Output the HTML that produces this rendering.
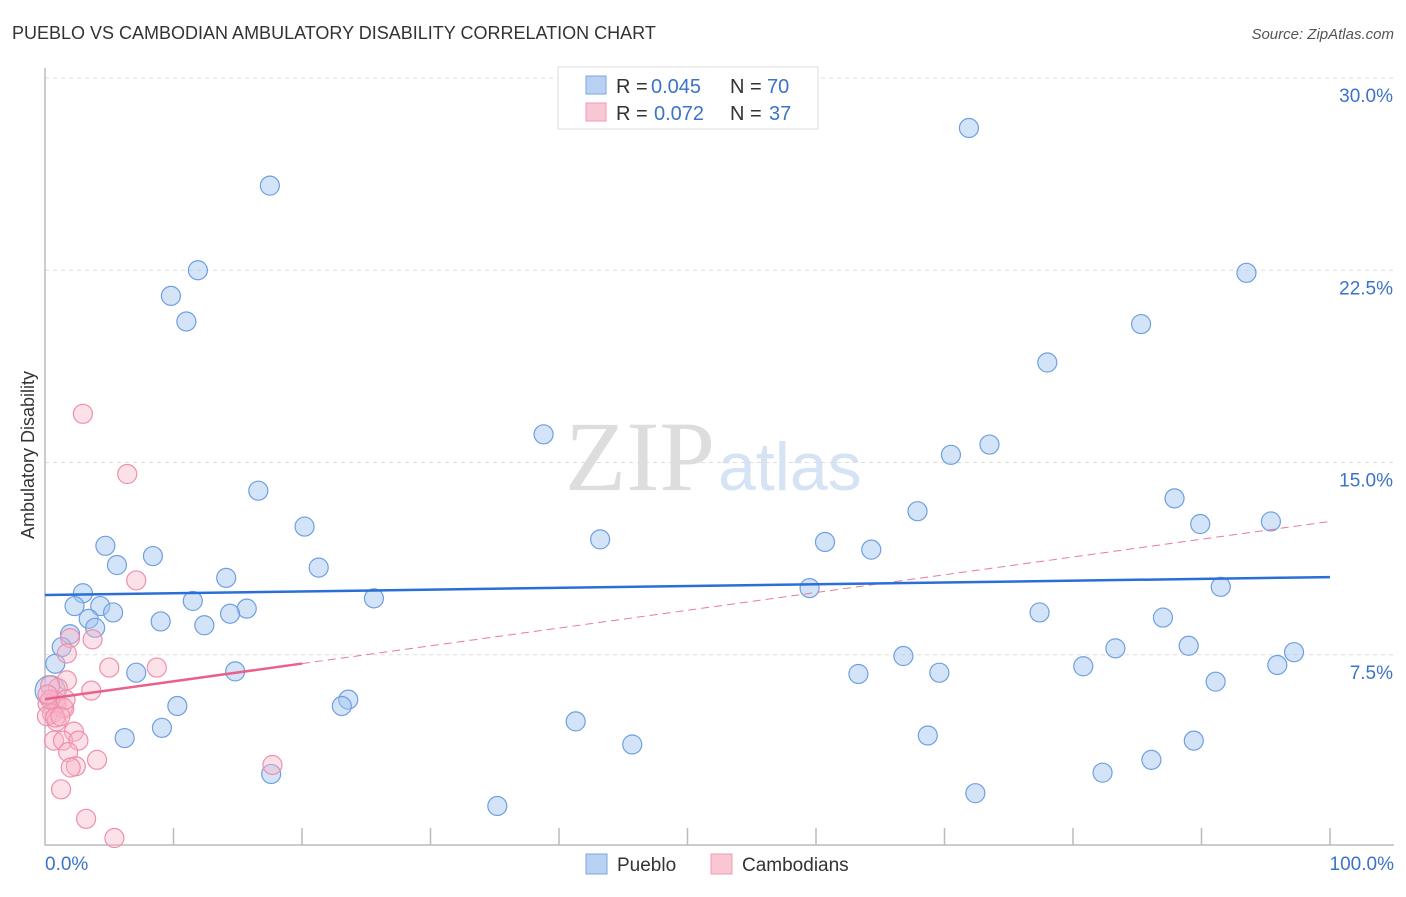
<!DOCTYPE html>
<html><head><meta charset="utf-8"><style>
body{margin:0;background:#fff;font-family:"Liberation Sans",sans-serif;}
svg text{font-family:"Liberation Sans",sans-serif;}
</style></head><body>
<svg width="1406" height="892" viewBox="0 0 1406 892">
<text x="12" y="39" font-size="18" fill="#333">PUEBLO VS CAMBODIAN AMBULATORY DISABILITY CORRELATION CHART</text>
<text x="1394" y="39" font-size="15" fill="#555" font-style="italic" text-anchor="end">Source: ZipAtlas.com</text>
<text x="715" y="490" font-size="100" fill="#ddd" text-anchor="end" style="font-family:'Liberation Serif',serif">ZIP</text>
<text x="718" y="490" font-size="68" fill="#d6e3f5">atlas</text>
<g id="grid"></g>
<g id="axes"></g>
<g id="marks"></g>
<text transform="translate(34,455) rotate(-90)" font-size="18" fill="#333" text-anchor="middle">Ambulatory Disability</text>
<text x="45" y="870" font-size="19" fill="#3b73c9">0.0%</text>
<text x="1394" y="870" font-size="19" fill="#3b73c9" text-anchor="end">100.0%</text>
<g>
<rect x="558" y="67" width="260" height="62" fill="#fff" stroke="#ddd"/>
<rect x="586" y="76" width="20" height="18" fill="#b9d1f3" stroke="#7aa6e3"/>
<rect x="586" y="103" width="20" height="18" fill="#f9c6d4" stroke="#f19ab3"/>
<text x="616" y="93" font-size="20" fill="#333">R =</text>
<text x="651" y="93" font-size="20" fill="#3b73c9">0.045</text>
<text x="730" y="93" font-size="20" fill="#333">N =</text>
<text x="767" y="93" font-size="20" fill="#3b73c9">70</text>
<text x="616" y="120" font-size="20" fill="#333">R =</text>
<text x="654" y="120" font-size="20" fill="#3b73c9">0.072</text>
<text x="730" y="120" font-size="20" fill="#333">N =</text>
<text x="769" y="120" font-size="20" fill="#3b73c9">37</text>
</g>
<g>
<rect x="586" y="854" width="21" height="20" fill="#b9d1f3" stroke="#7aa6e3"/>
<text x="617" y="871" font-size="19" fill="#333">Pueblo</text>
<rect x="711" y="854" width="21" height="20" fill="#f9c6d4" stroke="#f19ab3"/>
<text x="742" y="871" font-size="19" fill="#333">Cambodians</text>
</g>
</svg>
<script>
const yTicks=[7.5,15,22.5,30];
const yTickLabels=["7.5%","15.0%","22.5%","30.0%"];
const blueX=[17.5,71.9,11.9,9.8,11.0,93.5,85.3,78.0,38.8,70.5,73.5,16.6,87.9,67.9,20.2,89.9,95.4,43.2,60.7,4.7,8.4,64.3,5.6,21.3,14.1,2.95,59.5,91.5,25.6,2.3,4.3,11.5,5.3,15.7,14.4,3.4,9.0,12.4,77.4,87.0,3.9,1.95,1.3,83.3,89.0,66.8,97.2,0.8,80.8,95.9,7.1,14.8,63.3,69.6,91.1,0.4,23.6,23.1,10.3,41.3,9.1,6.2,45.7,68.7,89.4,86.1,82.3,17.6,72.4,35.2];
const blueY=[25.8,28.05,22.5,21.5,20.5,22.4,20.4,18.9,16.1,15.3,15.7,13.9,13.6,13.1,12.5,12.6,12.7,12.0,11.9,11.75,11.35,11.6,11.0,10.9,10.5,9.9,10.1,10.15,9.7,9.4,9.4,9.6,9.15,9.3,9.1,8.9,8.8,8.65,9.15,8.95,8.55,8.3,7.8,7.75,7.85,7.45,7.6,7.15,7.05,7.1,6.8,6.85,6.75,6.8,6.45,6.1,5.75,5.5,5.5,4.9,4.65,4.25,4.0,4.35,4.15,3.4,2.9,2.85,2.1,1.6];
const pinkX=[2.95,6.4,7.1,1.95,3.7,1.7,5.0,8.7,1.7,1.0,3.6,0.4,0.8,0.2,0.9,1.4,0.55,0.15,1.5,0.9,2.25,0.7,1.4,2.6,1.8,4.05,2.4,2.0,17.7,1.25,3.2,5.4,0.8,1.2,0.4,1.6,0.2];
const pinkY=[16.9,14.55,10.4,8.15,8.1,7.55,7.0,7.0,6.5,6.2,6.1,6.3,5.7,5.6,5.55,5.45,5.2,5.1,5.4,4.9,4.5,4.15,4.15,4.15,3.7,3.4,3.15,3.1,3.2,2.25,1.1,0.35,5.05,5.1,5.75,5.75,5.95];
const blueTrend=[9.83,10.53];
const pinkTrend=[5.77,12.7];
const pinkSolidEnd=20;
const X0=45,X1=1330,Y0=847,Y1=78;
const sx=v=>X0+(X1-X0)*v/100;
const sy=v=>Y0-(Y0-Y1)*v/30;
const NS="http://www.w3.org/2000/svg";
function mk(t,a,p){const e=document.createElementNS(NS,t);for(const k in a)e.setAttribute(k,a[k]);p.appendChild(e);return e;}
const grid=document.getElementById('grid'),axes=document.getElementById('axes'),marks=document.getElementById('marks');
yTicks.forEach((t,i)=>{
 const l=mk('line',{x1:X0,x2:1394,y1:sy(t),y2:sy(t),stroke:'#ddd','stroke-dasharray':'4,4'},grid);
 
 
 const tx=mk('text',{x:1393,y:sy(t)+24,'font-size':19,fill:'#3b73c9','text-anchor':'end'},grid);
 tx.textContent=yTickLabels[i];
 
 
});
const ax=mk('path',{d:`M${X0} 68 V845 H1394`,stroke:'#bbb',fill:'none','stroke-width':1.5},axes);


for(let i=1;i<=10;i++){
 const t=mk('line',{x1:sx(i*10),x2:sx(i*10),y1:828,y2:845,stroke:'#bbb','stroke-width':1.5},axes);
 
 
}
blueX.forEach((x,i)=>{
 const c=mk('circle',{cx:sx(x),cy:sy(blueY[i]),r:(x<0.5&&blueY[i]>6)?15:9.5,fill:'rgba(160,195,240,0.45)',stroke:'#6f9fe0','stroke-width':1.2},marks);
 
 
});
pinkX.forEach((x,i)=>{
 const c=mk('circle',{cx:sx(x),cy:sy(pinkY[i]),r:9.5,fill:'rgba(248,180,200,0.4)',stroke:'#ef8fab','stroke-width':1.2},marks);
 
 
});
const pAt=x=>pinkTrend[0]+(pinkTrend[1]-pinkTrend[0])*x/100;
const pd=mk('line',{x1:sx(pinkSolidEnd),y1:sy(pAt(pinkSolidEnd)),x2:sx(100),y2:sy(pinkTrend[1]),stroke:'#e87a9c','stroke-width':1,'stroke-dasharray':'8,5'},marks);


const ps=mk('line',{x1:sx(0),y1:sy(pinkTrend[0]),x2:sx(pinkSolidEnd),y2:sy(pAt(pinkSolidEnd)),stroke:'#e8608c','stroke-width':2.5},marks);


const bl=mk('line',{x1:sx(0),y1:sy(blueTrend[0]),x2:sx(100),y2:sy(blueTrend[1]),stroke:'#2a6fd6','stroke-width':2.5},marks);


</script>
</body></html>
